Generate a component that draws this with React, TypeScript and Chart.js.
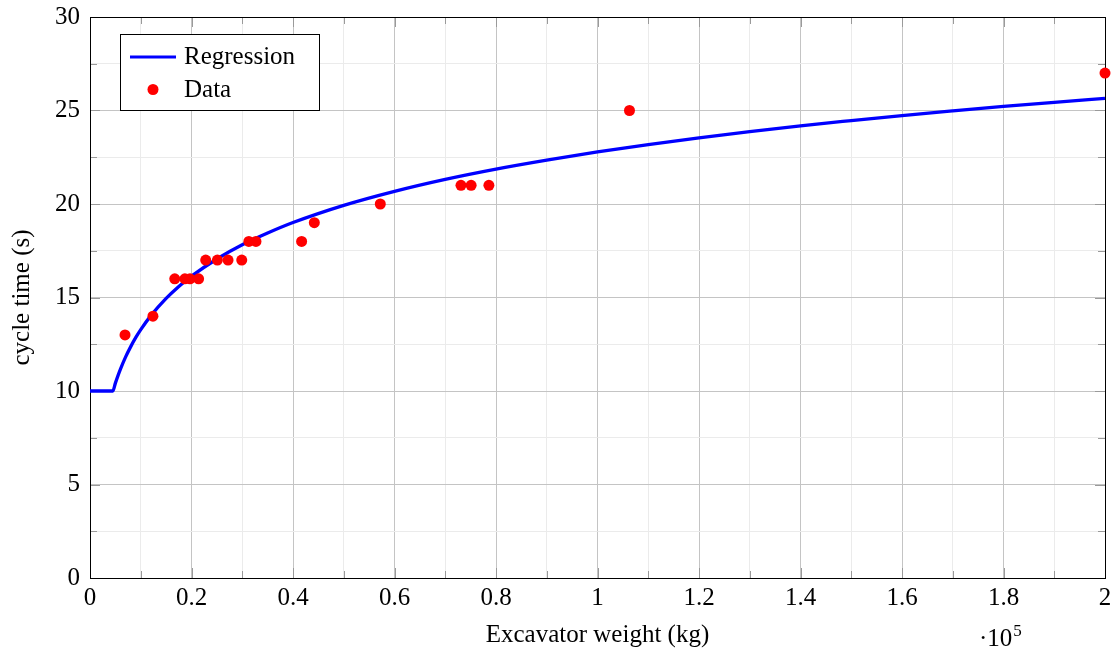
import { useEffect, useRef } from 'react';
import { Chart, registerables } from 'chart.js';

Chart.register(...registerables);

const FONT = "'Liberation Serif', 'Times New Roman', serif";

// Observed data (excavator weight in kg, cycle time in s)
const weightsKg = [6900, 12400, 16700, 18700, 19700, 21400, 22800, 25100, 27200, 29900, 31300, 32700, 41700, 44200, 57200, 73100, 75100, 78600, 106300, 200000];
const cycleTimes = [13, 14, 16, 16, 16, 16, 17, 17, 17, 17, 18, 18, 18, 19, 20, 21, 21, 21, 25, 27];

// Regression curve
const regWeightsKg = [0, 4500, 5000, 5500, 6000, 7000, 8000, 9000, 10000, 12000, 15000, 17500, 20000, 25000, 30000, 35000, 40000, 50000, 60000, 70000, 80000, 90000, 100000, 110000, 120000, 130000, 140000, 150000, 160000, 170000, 180000, 190000, 200000];
const regCycleTimes = [10, 10, 10.42, 10.81, 11.17, 11.81, 12.36, 12.85, 13.28, 14.03, 14.95, 15.59, 16.14, 17.06, 17.82, 18.45, 19.01, 19.93, 20.68, 21.32, 21.87, 22.35, 22.79, 23.18, 23.54, 23.87, 24.18, 24.46, 24.73, 24.98, 25.22, 25.44, 25.65];

const xMin = 0;
const xMax = 200000;
const xStep = 10000;
const xMajor = 20000;
const yMin = 0;
const yMax = 30;
const yStep = 2.5;
const yMajor = 5;

const legendLabels = ['Regression', 'Data'];
const xTitle = 'Excavator weight (kg)';
const yTitle = 'cycle time (s)';

const MAJOR_GRID = '#c4c4c4';
const MINOR_GRID = '#ebebeb';
const TICK_COLOR = '#9a9a9a';

const isMultiple = (v: number, m: number) => Math.abs(v / m - Math.round(v / m)) < 1e-6;

const decorPlugin = {
  id: 'decor',
  beforeDatasetsDraw(chart: any) {
    const { ctx, chartArea, scales } = chart;
    const { left, right, top, bottom } = chartArea;
    ctx.save();
    ctx.strokeStyle = TICK_COLOR;
    ctx.lineWidth = 1;
    for (const t of scales.x.ticks) {
      const px = Math.round(scales.x.getPixelForValue(t.value)) + 0.5;
      const len = isMultiple(t.value, xMajor) ? 10 : 7;
      ctx.beginPath();
      ctx.moveTo(px, bottom);
      ctx.lineTo(px, bottom - len);
      ctx.moveTo(px, top);
      ctx.lineTo(px, top + len);
      ctx.stroke();
    }
    for (const t of scales.y.ticks) {
      const py = Math.round(scales.y.getPixelForValue(t.value)) + 0.5;
      const len = isMultiple(t.value, yMajor) ? 10 : 7;
      ctx.beginPath();
      ctx.moveTo(left, py);
      ctx.lineTo(left + len, py);
      ctx.moveTo(right, py);
      ctx.lineTo(right - len, py);
      ctx.stroke();
    }
    ctx.strokeStyle = '#000';
    ctx.lineWidth = 1;
    ctx.strokeRect(Math.round(left) + 0.5, Math.round(top) + 0.5, Math.round(right - left), Math.round(bottom - top));
    ctx.restore();
  },
  afterDraw(chart: any) {
    const { ctx } = chart;
    ctx.save();
    // legend box
    const bx = 120.5, by = 34.5, bw = 199, bh = 76;
    ctx.fillStyle = '#fff';
    ctx.fillRect(bx, by, bw, bh);
    ctx.strokeStyle = '#000';
    ctx.lineWidth = 1;
    ctx.strokeRect(bx, by, bw, bh);
    ctx.strokeStyle = '#0000ff';
    ctx.lineWidth = 3.2;
    ctx.beginPath();
    ctx.moveTo(130, 57);
    ctx.lineTo(176, 57);
    ctx.stroke();
    ctx.fillStyle = '#ff0000';
    ctx.beginPath();
    ctx.arc(153, 89.5, 5.5, 0, Math.PI * 2);
    ctx.fill();
    ctx.fillStyle = '#000';
    ctx.font = `25px ${FONT}`;
    ctx.textBaseline = 'alphabetic';
    ctx.textAlign = 'left';
    ctx.fillText(legendLabels[0], 184, 64);
    ctx.fillText(legendLabels[1], 184, 97);
    // axis multiplier
    ctx.fillText('\u00b710', 979, 646);
    const w = ctx.measureText('\u00b710').width;
    ctx.font = `17px ${FONT}`;
    ctx.fillText('5', 979 + w + 1, 636);
    ctx.restore();
  },
};

export default function App() {
  const ref = useRef<HTMLCanvasElement>(null);
  useEffect(() => {
    document.body.style.margin = '0';
    const canvas = ref.current!;
    const font = { family: FONT, size: 25 };
    const chart = new Chart(canvas, {
      type: 'scatter',
      data: {
        datasets: [
          {
            label: legendLabels[1],
            data: weightsKg.map((x, i) => ({ x, y: cycleTimes[i] })),
            backgroundColor: '#ff0000',
            borderColor: '#ff0000',
            pointRadius: 5.5,
            pointBorderWidth: 0,
            showLine: false,
            order: 0,
            clip: false as any,
          },
          {
            label: legendLabels[0],
            data: regWeightsKg.map((x, i) => ({ x, y: regCycleTimes[i] })),
            borderColor: '#0000ff',
            backgroundColor: '#0000ff',
            borderWidth: 3.3,
            pointRadius: 0,
            showLine: true,
            cubicInterpolationMode: 'monotone',
            borderJoinStyle: 'round',
            order: 1,
          },
        ],
      },
      options: {
        responsive: false,
        animation: false,
        devicePixelRatio: 1,
        layout: { padding: { left: 0, right: 11, top: 17, bottom: 0 } },
        plugins: { legend: { display: false }, tooltip: { enabled: false } },
        scales: {
          x: {
            type: 'linear',
            min: xMin,
            max: xMax,
            afterFit: (s: any) => { s.height = 74; s.paddingLeft = 0; s.paddingRight = 0; },
            ticks: {
              stepSize: xStep,
              autoSkip: false,
              maxRotation: 0,
              padding: 5,
              color: '#000',
              font,
              callback: (v: any) => (isMultiple(v, xMajor) ? String(Math.round(v / 10000) / 10) : ''),
            },
            grid: {
              drawTicks: false,
              color: (c: any) => (isMultiple(c.tick.value, xMajor) ? MAJOR_GRID : MINOR_GRID),
            },
            border: { display: false },
            title: { display: true, text: xTitle, color: '#000', font, padding: { top: 0, bottom: 2 } },
          },
          y: {
            type: 'linear',
            min: yMin,
            max: yMax,
            afterFit: (s: any) => { s.width = 90; s.paddingTop = 0; s.paddingBottom = 0; },
            ticks: {
              stepSize: yStep,
              autoSkip: false,
              padding: 10,
              color: '#000',
              font,
              callback: (v: any) => (isMultiple(v, yMajor) ? String(v) : ''),
            },
            grid: {
              drawTicks: false,
              color: (c: any) => (isMultiple(c.tick.value, yMajor) ? MAJOR_GRID : MINOR_GRID),
            },
            border: { display: false },
            title: { display: true, text: yTitle, color: '#000', font, padding: { top: 7, bottom: 0 } },
          },
        },
      },
      plugins: [decorPlugin],
    } as any);
    return () => chart.destroy();
  }, []);
  return (
    <div style={{ width: 1116, height: 652, position: 'relative' }}>
      <canvas ref={ref} width={1116} height={652} style={{ display: 'block' }} />
    </div>
  );
}
